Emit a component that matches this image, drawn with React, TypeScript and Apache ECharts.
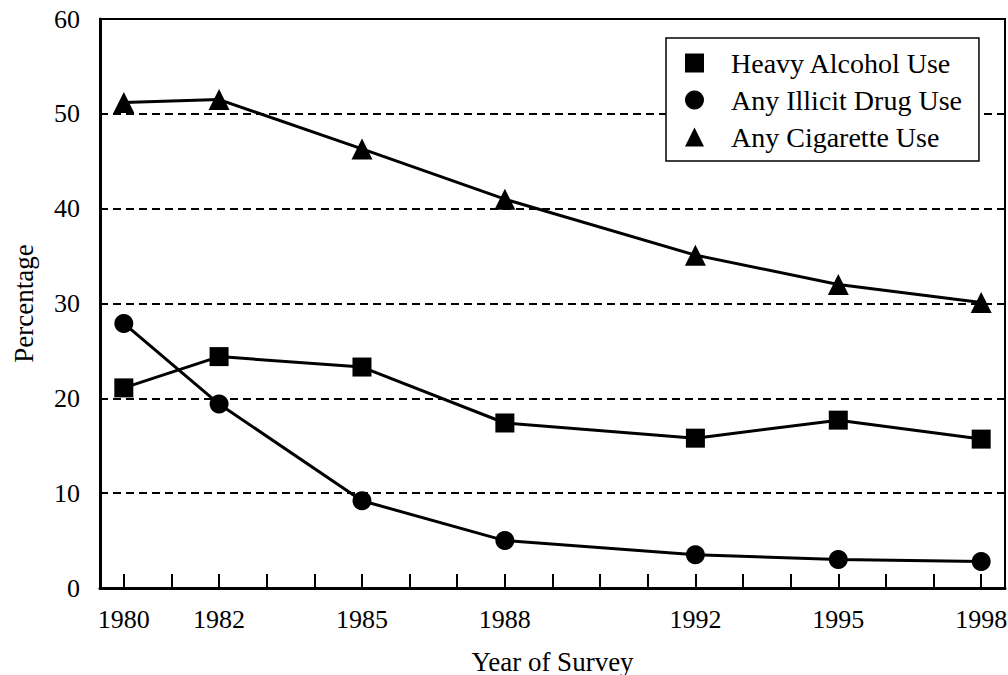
import React, { useEffect, useRef } from "react";
import * as echarts from "echarts";

const allYears = ["1980","1981","1982","1983","1984","1985","1986","1987","1988","1989","1990","1991","1992","1993","1994","1995","1996","1997","1998"];
const labelYears = ["1980", "1982", "1985", "1988", "1992", "1995", "1998"];
const surveyYears = ["1980", "1982", "1985", "1988", "1992", "1995", "1998"];
const heavyAlcohol = [21.1, 24.4, 23.3, 17.4, 15.8, 17.7, 15.7];
const illicitDrug = [27.9, 19.4, 9.2, 5.0, 3.5, 3.0, 2.8];
const cigarette = [51.2, 51.5, 46.3, 41.0, 35.1, 32.0, 30.1];
const seriesNames = ["Heavy Alcohol Use", "Any Illicit Drug Use", "Any Cigarette Use"];
const seriesSymbols = ["rect", "circle", "triangle"];

const FONT = "'Liberation Serif', 'Times New Roman', serif";

export default function App() {
  const ref = useRef<HTMLDivElement>(null);
  useEffect(() => {
    if (!ref.current) return;
    const chart = echarts.init(ref.current, undefined, { renderer: "svg" });
    const values = [heavyAlcohol, illicitDrug, cigarette];
    const sizes = [19, 19, 21];
    chart.setOption({
      animation: false,
      backgroundColor: "#fff",
      textStyle: { fontFamily: FONT, color: "#000" },
      grid: {
        left: 100,
        right: 3,
        top: 19,
        bottom: 87,
        containLabel: false,
        outerBoundsMode: "none",
        show: true,
        borderColor: "#000",
        borderWidth: 2,
        backgroundColor: "transparent",
      },
      legend: {
        orient: "vertical",
        left: 666,
        top: 38,
        padding: [11, 17, 10, 19],
        itemGap: 9,
        itemWidth: 19,
        itemHeight: 19,
        backgroundColor: "#fff",
        borderColor: "#000",
        borderWidth: 1.5,
        borderRadius: 0,
        textStyle: {
          fontFamily: FONT,
          fontSize: 28,
          lineHeight: 28,
          color: "#000",
          padding: [0, 0, 0, 22],
        },
        data: seriesNames.map((n, i) => ({ name: n, icon: seriesSymbols[i] })),
      },
      xAxis: {
        type: "category",
        data: allYears,
        boundaryGap: true,
        name: "Year of Survey",
        nameLocation: "middle",
        nameGap: 60,
        nameTextStyle: { fontFamily: FONT, fontSize: 27, color: "#000" },
        axisLine: { show: true, lineStyle: { color: "#000", width: 3 } },
        axisTick: {
          show: true,
          inside: true,
          length: 14,
          interval: 0,
          alignWithLabel: true,
          lineStyle: { color: "#000", width: 2 },
        },
        axisLabel: {
          interval: (_idx: number, value: string) => labelYears.includes(value),
          margin: 18,
          fontFamily: FONT,
          fontSize: 26,
          color: "#000",
        },
        splitLine: { show: false },
      },
      yAxis: {
        type: "value",
        min: 0,
        max: 60,
        interval: 10,
        name: "Percentage",
        nameLocation: "middle",
        nameGap: 63,
        nameTextStyle: { fontFamily: FONT, fontSize: 27, color: "#000" },
        axisLine: { show: true, lineStyle: { color: "#000", width: 3 } },
        axisTick: { show: false },
        axisLabel: { margin: 20, fontFamily: FONT, fontSize: 26, color: "#000" },
        splitLine: { show: true, lineStyle: { color: "#000", width: 2, type: [8, 5] } },
      },
      series: seriesNames.map((n, i) => ({
        name: n,
        type: "line",
        data: surveyYears.map((y, j) => [y, values[i][j]]),
        symbol: seriesSymbols[i],
        symbolSize: sizes[i],
        showAllSymbol: true,
        lineStyle: { color: "#000", width: 3 },
        itemStyle: { color: "#000" },
        z: 3,
      })),
    });
    return () => chart.dispose();
  }, []);
  return (
    <div
      ref={ref}
      style={{ position: "fixed", left: 0, top: 0, width: 1008, height: 675 }}
    />
  );
}
